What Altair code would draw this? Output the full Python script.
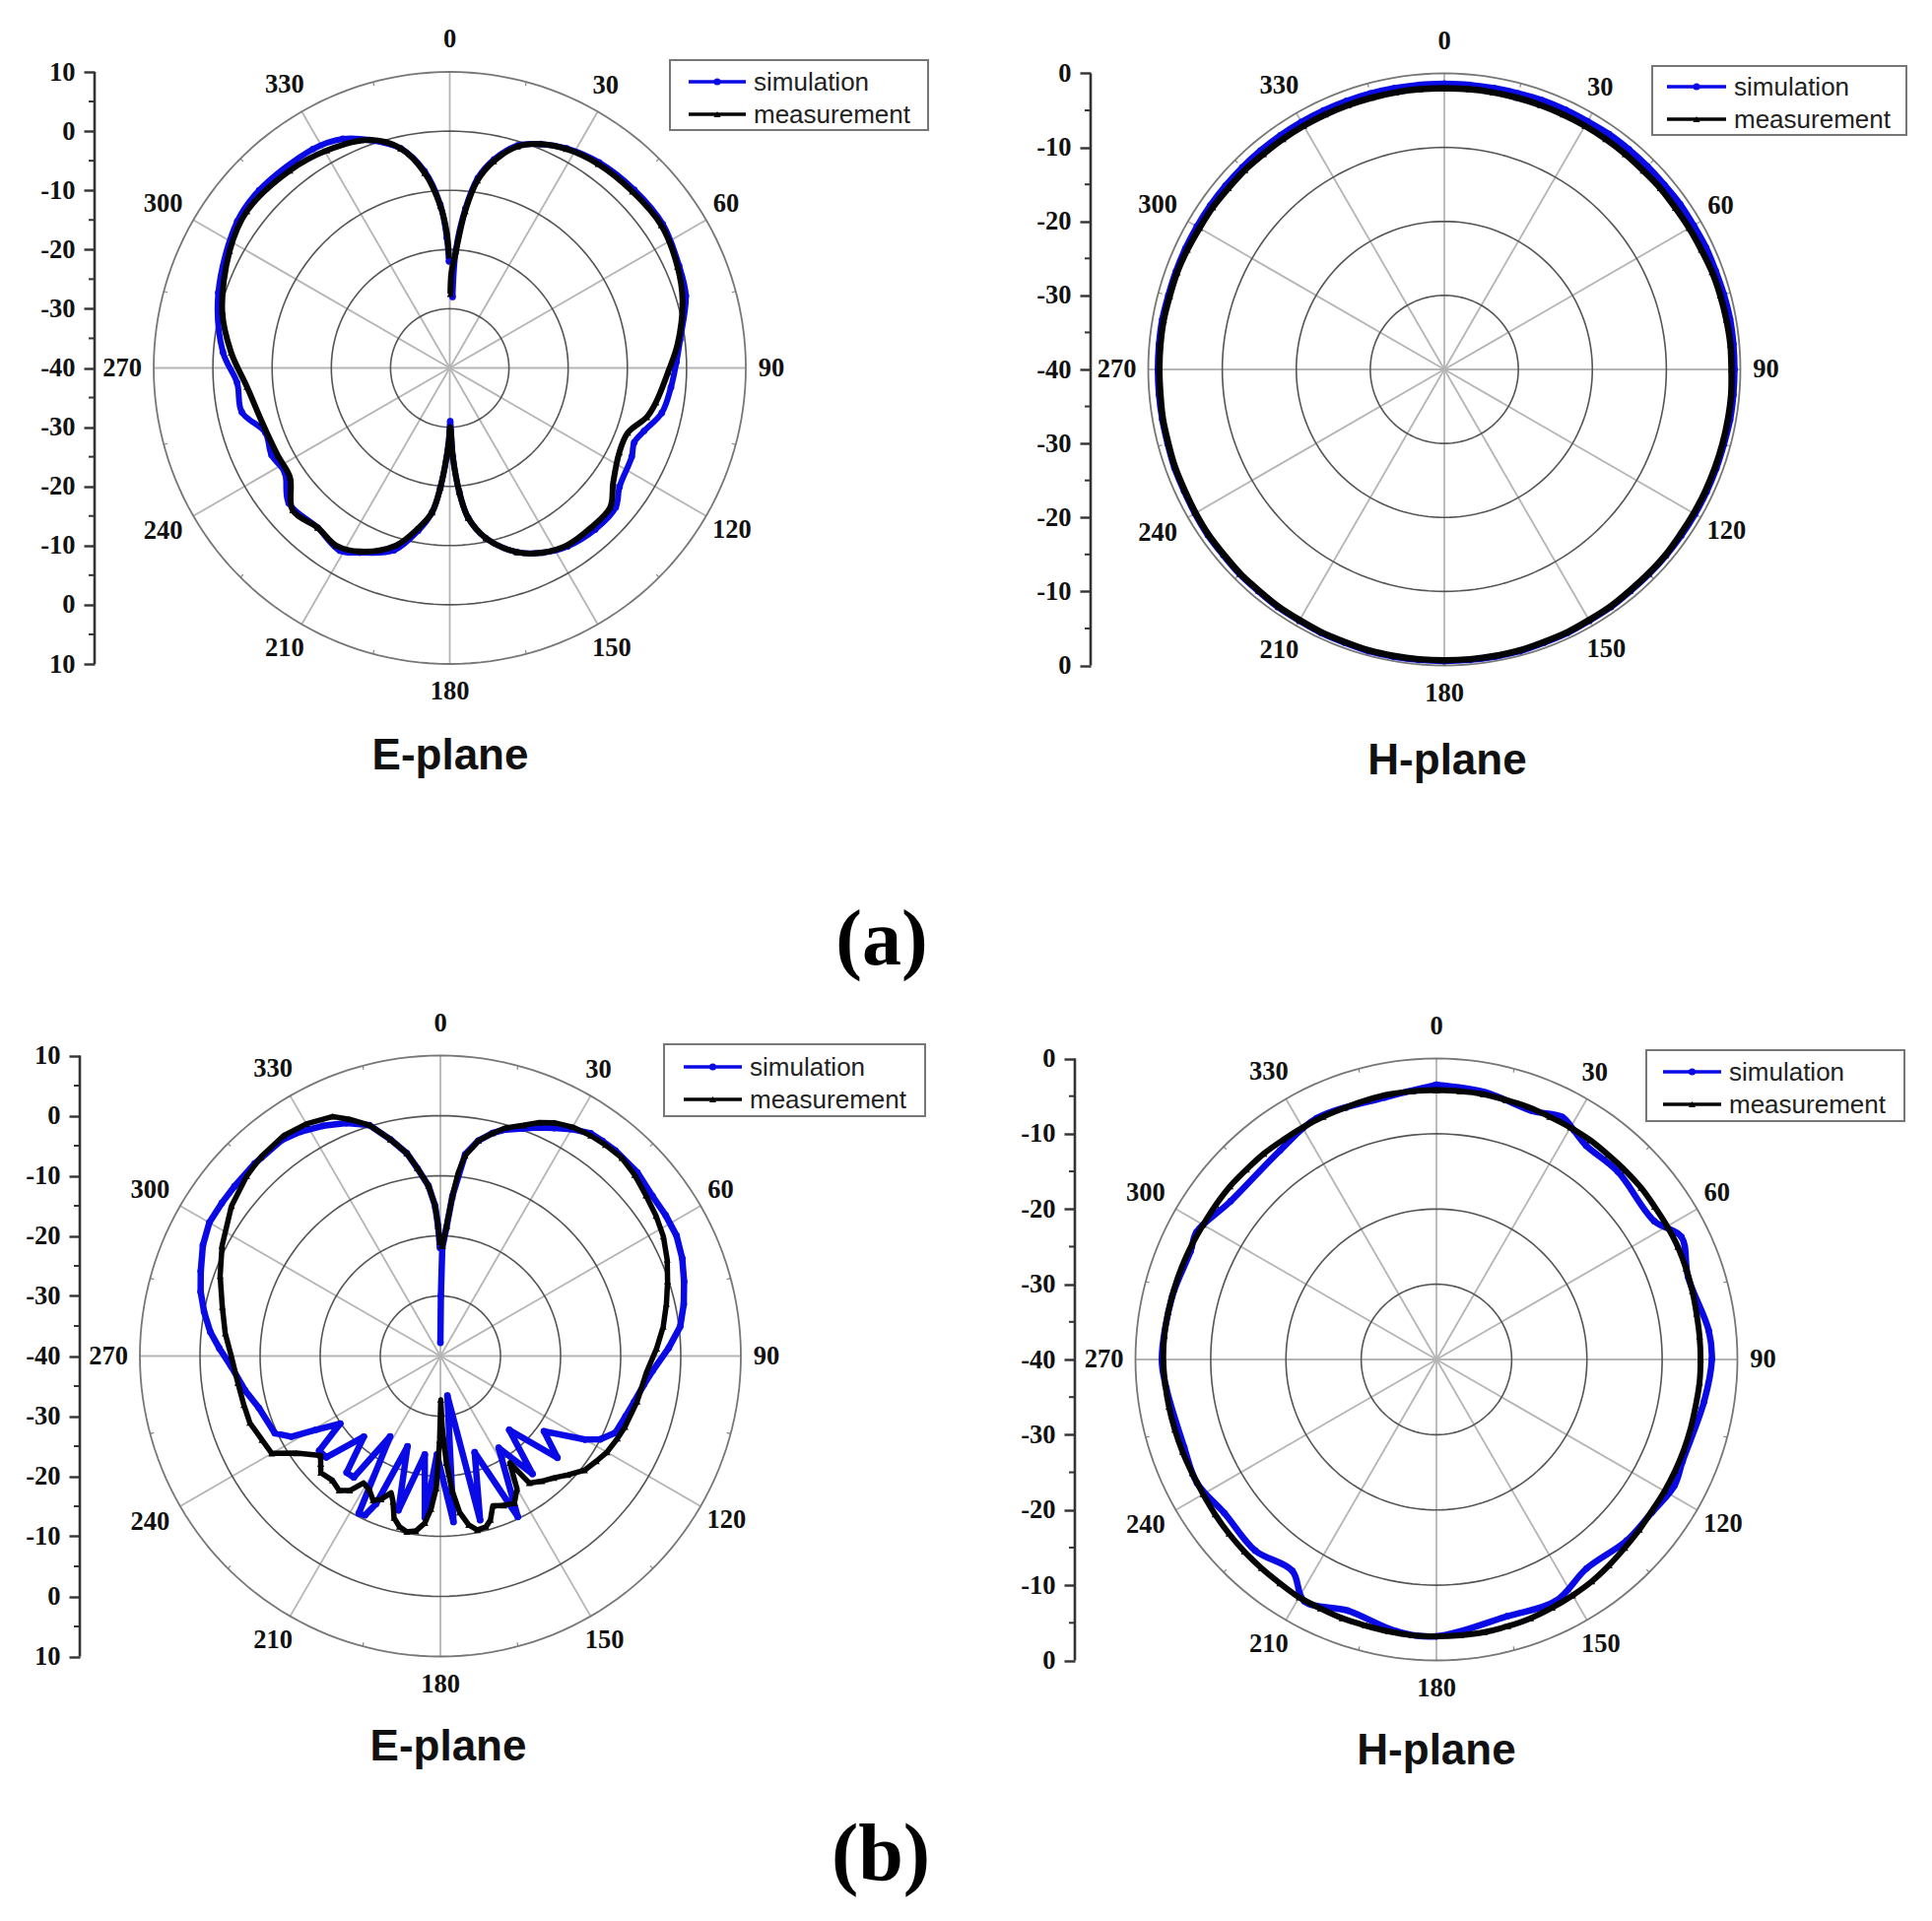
import math
import altair as alt
import pandas as pd

SERIES = ["simulation", "measurement"]
COLORS = ["#0a0ae6", "#050505"]
ANGLE_TICKS = [0, 30, 60, 90, 120, 150, 180, 210, 240, 270, 300, 330]
# small shift of each angle label: (right, up) in pixels
LABEL_SHIFT = {0: (0, 5), 30: (-6, 2), 60: (-4, 2), 90: (-2, 0), 120: (2, 0), 150: (0, 0), 180: (0, 0),
               210: (-1, 4), 240: (-2, 1), 270: (1, 0), 300: (-2, 0), 330: (-1, -1)}

# ---- (a) E-plane
AE_M_ANG = [0.5,1,3,5.6,8.4,12,17,22,28,36,46,56,66,74,84,91,99.5,104,110,116.5,125,131,138.5,146.6,153.4,160,168,173,175.6,178,179.5,181,184.5,187,191,197,206,212.6,219.6,227.8,235.6,243,253.8,264.7,274,284,298,307.7,321,330.5,340.7,347.4,352.7,356.7,358.7,359.6]
AE_M_DB = [-27.5,-24,-20.3,-13.4,-8,-4.3,-0.9,0.8,1.9,2.6,2.9,3.1,2.1,0.9,-1.3,-3.1,-4.7,-5.7,-8,-8,-6.3,-4.1,-4,-4.1,-5.1,-6.9,-10.6,-14.5,-19,-25,-30,-27,-19.7,-15.4,-12.5,-8.6,-5.5,-4.4,-5,-4.2,-7.3,-7.4,-7,-5.6,-3,-0.4,2.1,3.3,2.9,2.2,0.8,-2,-6.8,-12.6,-17,-21]
AE_S_ANG = [2.3,3,5.6,8.4,12,17,22,28,36,46,56,66,73,83,88.5,95,102,108,112,116,125,130,138,146.6,153.4,160,168,173,175.6,178,179.5,181,184.5,187,191,197,206,211,219.6,230,237.6,244,250.7,258,266,274,288,304.6,313,328,335,340.7,347.4,352.7,356.7,358.7,359.6]
AE_S_DB = [-28,-20,-13,-7.6,-4,-0.7,0.8,2,2.9,3.3,3.4,2.4,1.7,-0.8,-1.7,-2.5,-3.4,-5.5,-6.4,-5.8,-5,-3.4,-3.3,-3.9,-5.1,-6.9,-10.6,-14.5,-19,-25,-31,-27,-19.7,-15.4,-12,-7.8,-5.3,-4,-5,-4.5,-7,-6.5,-7,-4.1,-4,-1.6,1.1,3.6,4,3.6,2.7,0.8,-2,-6.5,-12.4,-18,-22]

# ---- (a) H-plane, read every 5 degrees
GRID_ANG = list(range(0, 365, 5))
AH_M_DB = [-2,-2,-2,-2,-2,-2,-2,-2,-2,-2,-1.9,-1.9,-1.8,-1.7,-1.5,-1.4,-1.3,-1.2,-1.2,-1.1,-1.1,-1.1,-1.1,-1.1,-1.1,-1.1,-1,-1,-1,-0.9,-0.9,-0.8,-0.8,-0.7,-0.7,-0.7,-0.7,-0.7,-0.7,-0.7,-0.8,-0.8,-0.9,-0.9,-1,-1,-1.1,-1.1,-1.2,-1.3,-1.3,-1.4,-1.4,-1.5,-1.5,-1.5,-1.5,-1.6,-1.6,-1.7,-1.8,-1.8,-1.9,-1.9,-2,-2,-2,-2,-2,-2,-2,-2,-2]
AH_S_DB = [-1.4,-1.4,-1.4,-1.4,-1.3,-1.3,-1.3,-1.2,-1.2,-1.2,-1.2,-1.1,-1.1,-1,-1,-0.9,-0.8,-0.8,-0.8,-0.8,-0.8,-0.9,-0.9,-0.9,-0.9,-0.9,-0.9,-0.9,-0.9,-0.8,-0.8,-0.7,-0.7,-0.6,-0.6,-0.6,-0.6,-0.6,-0.6,-0.6,-0.7,-0.7,-0.8,-0.8,-0.9,-0.9,-1,-1,-1.1,-1.2,-1.2,-1.3,-1.3,-1.3,-1.3,-1.3,-1.3,-1.4,-1.4,-1.4,-1.4,-1.4,-1.4,-1.4,-1.4,-1.4,-1.4,-1.4,-1.4,-1.4,-1.4,-1.4,-1.4]

# ---- (b) E-plane
BE_M_ANG = [0.5,1,2.7,4.3,5.5,7,10,13.2,16,19.8,23,26,30,34.3,38,42.5,47,52,57,61.8,67,71.8,77,82.5,88,94.5,103,111,115,120,124,128.4,133,137,141,145,147,150,153.3,157,160.7,163,165,168,170.5,173,175,176.8,178.5,179.5,180.5,181.8,183.5,185.3,188,190.8,193.5,196,198,199.8,202.5,205,208,211.2,214,217,221,225.7,228,230.3,236,240,244.8,250.7,256,262.5,270,276,282.7,290,296.8,305.7,312.9,318,324.6,330,335.8,339,342.9,347,350.6,353,356,358,359,359.6]
BE_M_DB = [-21.7,-21.7,-18.4,-13.3,-9.5,-6.4,-3.6,-1.9,-0.5,0.8,2.2,3.2,4,4.4,4.6,4.7,4.2,3.4,2.8,2.1,1,-0.2,-1.4,-2.6,-4,-5.6,-6.4,-7.1,-7.5,-8,-8.7,-9.4,-11,-12.3,-13.2,-14.2,-18.8,-14.5,-12.6,-13,-13.6,-11.5,-10.6,-10.4,-11.5,-13.8,-17.5,-22.2,-28,-32.7,-26,-18,-14.5,-12.1,-10.6,-10.2,-10.8,-12,-14.5,-15.8,-14.2,-13.5,-14.8,-15.3,-13,-12,-12.6,-12.2,-13.2,-14.1,-11.1,-7.6,-7.2,-6.4,-6.3,-6,-5.2,-4,-2.8,-1,0.7,2.8,4,4.6,5,4.6,3.7,2.2,0.2,-3,-5.8,-8.5,-11.6,-15,-18.4,-21]
BE_S_ANG = [0,0.5,1,2.7,4.3,7,10,13.2,16,20,23,26.5,30,34,37,40.4,47,53,58,63,68,73,78,83,88,94,98,103.4,108,113.6,117.5,120,126,131,137,142,147.6,154.3,160.4,166.4,170,175.5,182,185.5,189,195.2,200,203.5,205.3,207.4,212,215.5,218.8,223.5,228.4,232,236,239.4,241.6,245,254,260,267,272,276,280.6,285,289.5,295,300,305,309.5,316,323.7,328,333,338,342.9,347,350.6,353,356,358,359,359.8]
BE_S_DB = [-37.8,-30,-22,-18.6,-13.3,-6.2,-3.6,-1.9,-0.8,0.3,1.3,2.4,3.6,4.7,4.8,4.9,4.8,4.2,4.2,4.1,3.4,2.4,1.4,0.2,-2,-4.6,-5.8,-6.9,-7.6,-8.2,-10,-12.2,-18.7,-14.2,-23.2,-15.1,-21.9,-10.3,-23,-11.9,-33.3,-12.3,-23.6,-13,-23.4,-13.4,-24,-13.2,-10.7,-10.5,-24.2,-15.2,-15.1,-21.5,-14.6,-14.4,-19.9,-15.8,-11.8,-9.6,-8.6,-7,-5.2,-3.2,-1.5,0,1.3,2.3,3.6,4.4,4.4,4.4,4.5,4.6,4,3,1.8,0.2,-3,-5.8,-8.5,-11.6,-15,-18.4,-22]

# ---- (b) H-plane
BH_M_DB = [-4.2,-4.2,-4.2,-4.3,-4.3,-4.4,-4.4,-4.4,-4.5,-4.5,-4.5,-4.6,-4.6,-4.6,-4.7,-4.8,-4.9,-4.9,-4.9,-4.9,-5,-5,-5,-5,-5,-5,-4.8,-4.6,-4.3,-4,-3.8,-3.6,-3.4,-3.3,-3.2,-3.2,-3.2,-3.2,-3.3,-3.4,-3.4,-3.5,-3.5,-3.7,-3.8,-3.9,-4,-4.1,-4.2,-4.2,-4.1,-4,-3.9,-3.8,-3.7,-3.7,-3.8,-3.9,-4,-4.1,-4.2,-4.2,-4.2,-4.3,-4.3,-4.4,-4.4,-4.4,-4.4,-4.3,-4.2,-4.2,-4.2]
BH_S_ANG = [0,10.4,21,27.4,31,35,44,57.6,63.4,71.8,84,90,99,112.5,118,125.5,133.6,144.3,153.7,164.6,180,188.4,199.5,208.7,214.3,223.5,234.1,242.7,250.8,264,270,283.4,293.8,298,307.6,323.2,333.6,348.8,360]
BH_S_DB = [-3.5,-3.9,-4.6,-3.7,-4.5,-5.3,-5.3,-5.7,-3.6,-4.8,-3.6,-3.4,-4,-4.6,-4.2,-4.9,-5.1,-5.8,-4.2,-4.6,-3.2,-3.5,-4.6,-3.4,-6,-5,-5.2,-4.2,-4.5,-3.9,-3.5,-3.9,-4.3,-3.9,-5.5,-5.3,-4.2,-4.5,-3.5]

CELL_W, ROW_H = 970, [980, 950]

PANELS = [
    dict(col=0, row=0, cx=456.5, cy=373.5, R=300.5, rmax=50, axis_x=96, title="E-plane", tx=457, ty=768, lw_s=6, lw_m=6,
         leg=(680, 61, 942, 132, 699, 757, 83, 116), sim=(AE_S_ANG, AE_S_DB), mea=(AE_M_ANG, AE_M_DB), interp="catmull-rom",
         tag="(a)", tag_x=895, tag_base=979, tag_size=80),
    dict(col=1, row=0, cx=1466, cy=375, R=300.5, rmax=40, axis_x=1107, title="H-plane", tx=1469, ty=773, lw_s=6.5, lw_m=6.5,
         leg=(1677, 67, 1935, 137, 1692, 1752, 88, 121), sim=(GRID_ANG, AH_S_DB), mea=(GRID_ANG, AH_M_DB), interp="catmull-rom"),
    dict(col=0, row=1, cx=447, cy=1376.5, R=305, rmax=50, axis_x=81, title="E-plane", tx=455, ty=1774, lw_s=6.5, lw_m=5.5,
         leg=(674, 1060, 939, 1133, 694, 753, 1083, 1116), sim=(BE_S_ANG, BE_S_DB), mea=(BE_M_ANG, BE_M_DB), interp="linear",
         tag="(b)", tag_x=894, tag_base=1908, tag_size=82),
    dict(col=1, row=1, cx=1458, cy=1380, R=305.5, rmax=40, axis_x=1091, title="H-plane", tx=1458, ty=1778, lw_s=6.5, lw_m=6,
         leg=(1671, 1066, 1933, 1138, 1688, 1747, 1088, 1121), sim=(BH_S_ANG, BH_S_DB), mea=(GRID_ANG, BH_M_DB), interp="catmull-rom"),
]


def polar(ang, r):
    t = math.radians(ang)
    return r * math.sin(t), r * math.cos(t)


def curve(ang, db, name):
    rows = []
    for i, (a, d) in enumerate(zip(ang, db)):
        x, y = polar(a, d + 40)
        rows.append({"x": x, "y": y, "i": i, "series": name})
    return pd.DataFrame(rows)


def panel(p):
    L = 8 + p["col"] * CELL_W
    T = 8 + (ROW_H[0] if p["row"] else 0)
    H = ROW_H[p["row"]]
    s = p["R"] / p["rmax"]
    rmax = p["rmax"]
    xs = alt.Scale(domain=[(L - p["cx"]) / s, (L + CELL_W - p["cx"]) / s], nice=False, zero=False)
    ys = alt.Scale(domain=[(p["cy"] - T - H) / s, (p["cy"] - T) / s], nice=False, zero=False)
    ax_px = p["axis_x"] - L

    # radial axis, repeated on every layer so that the layers merge into one axis
    major = list(range(-rmax, rmax + 1, 10))
    minor = [v + 5 for v in major[:-1]]
    axis = alt.Axis(values=major, labelExpr="'' + (abs(datum.value) - 40)", title=None, domain=False, grid=False,
                    offset=-(ax_px), tickSize=11, tickWidth=2.4, tickColor="#333333", labelPadding=9,
                    labelFont="Liberation Serif", labelFontWeight="bold", labelFontSize=26.5, labelColor="#111111",
                    labelOverlap=False, labelFlush=False, labelBound=False)
    X = lambda f="x": alt.X(f"{f}:Q", scale=xs, axis=None)
    Y = lambda f="y": alt.Y(f"{f}:Q", scale=ys, axis=axis)

    # rings
    ring_rows = []
    for r in range(10, rmax + 1, 10):
        for a in range(0, 361, 2):
            x, y = polar(a, r)
            ring_rows.append({"x": x, "y": y, "a": a, "ring": r})
    rings_df = pd.DataFrame(ring_rows)
    rings_in = alt.Chart(rings_df[rings_df.ring < rmax]).mark_line(color="#555555", strokeWidth=1.6).encode(
        x=X(), y=Y(), detail="ring:N", order="a:Q")
    ring_out = alt.Chart(rings_df[rings_df.ring == rmax]).mark_line(color="#777777", strokeWidth=1.8).encode(
        x=X(), y=Y(), order="a:Q")

    # spokes
    spoke_rows = []
    for a in ANGLE_TICKS:
        x, y = polar(a, rmax)
        spoke_rows.append({"x0": 0.0, "y0": 0.0, "x1": x, "y1": y})
    spokes = alt.Chart(pd.DataFrame(spoke_rows)).mark_rule(color="#b5b5b5", strokeWidth=1.8).encode(
        x=X("x0"), y=Y("y0"), x2="x1:Q", y2="y1:Q")
    small_rows = []
    for a in range(15, 360, 30):
        x0, y0 = polar(a, rmax - 4 / s)
        x1, y1 = polar(a, rmax)
        small_rows.append({"x0": x0, "y0": y0, "x1": x1, "y1": y1})
    small = alt.Chart(pd.DataFrame(small_rows)).mark_rule(color="#888888", strokeWidth=1.2).encode(
        x=X("x0"), y=Y("y0"), x2="x1:Q", y2="y1:Q")

    # angle labels just outside the outer ring
    lab_rows = []
    for a in ANGLE_TICKS:
        x, y = polar(a, rmax + (33 if a > 180 else 28) / s)
        dx, dy = LABEL_SHIFT[a]
        lab_rows.append({"x": x + dx / s, "y": y + dy / s, "t": str(a)})
    ang_labels = alt.Chart(pd.DataFrame(lab_rows)).mark_text(
        font="Liberation Serif", fontWeight="bold", fontSize=26.5, color="#111111", align="center", baseline="middle"
    ).encode(x=X(), y=Y(), text="t:N")

    spine = alt.Chart(pd.DataFrame({"y0": [-rmax], "y1": [rmax]})).mark_rule(color="#333333", strokeWidth=2.6).encode(
        x=alt.value(ax_px), y=Y("y0"), y2="y1:Q")
    minors = alt.Chart(pd.DataFrame({"y": minor})).mark_rule(color="#333333", strokeWidth=2).encode(
        x=alt.value(ax_px - 6), x2=alt.value(ax_px), y=Y())

    # curves: the legend supplies the labels, its keys are drawn below with line and marker together
    lx0, ly0, lx1, ly1, lnx0, lnx1, row1, row2 = p["leg"]
    legend = alt.Legend(orient="none", legendX=lnx0 - L, legendY=row1 - 12 - T, title=None, symbolType="stroke",
                        symbolSize=16, symbolOpacity=0, labelFont="Liberation Sans",
                        labelFontSize=26, labelColor="#222222", labelOffset=lnx1 - lnx0 - 18, rowPadding=row2 - row1 - 26,
                        padding=0, labelLimit=300)
    color = alt.Color("series:N", scale=alt.Scale(domain=SERIES, range=COLORS), legend=legend)
    sim = curve(*p["sim"], SERIES[0])
    mea = curve(*p["mea"], SERIES[1])
    line_s = alt.Chart(sim).mark_line(strokeWidth=p["lw_s"], interpolate=p["interp"], strokeJoin="round").encode(
        x=X(), y=Y(), order="i:Q", color=color)
    pts_s = alt.Chart(sim).mark_point(filled=True, shape="circle", size=46, color=COLORS[0], opacity=1).encode(x=X(), y=Y())
    line_m = alt.Chart(mea).mark_line(strokeWidth=p["lw_m"], interpolate=p["interp"], strokeJoin="round").encode(
        x=X(), y=Y(), order="i:Q", color=color)
    pts_m = alt.Chart(mea).mark_point(filled=True, shape="triangle-up", size=50, color=COLORS[1], opacity=1).encode(x=X(), y=Y())

    # legend frame and the keys
    one = pd.DataFrame({"k": [0]})
    frame = alt.Chart(one).mark_rect(fill="white", stroke="#777777", strokeWidth=2).encode(
        x=alt.value(lx0 - L), x2=alt.value(lx1 - L), y=alt.value(ly0 - T), y2=alt.value(ly1 - T))
    key_mid = (lnx0 + lnx1) / 2 - L
    keys = []
    for row, col, shape in ((row1, COLORS[0], "circle"), (row2, COLORS[1], "triangle-up")):
        keys.append(alt.Chart(one).mark_rule(color=col, strokeWidth=3.4).encode(
            x=alt.value(lnx0 - L), x2=alt.value(lnx1 - L), y=alt.value(row - T)))
        keys.append(alt.Chart(one).mark_point(filled=True, shape=shape, size=50, color=col, opacity=1).encode(
            x=alt.value(key_mid), y=alt.value(row - T)))

    title = alt.Chart(pd.DataFrame({"t": [p["title"]]})).mark_text(
        font="Liberation Sans", fontWeight="bold", fontSize=44, color="#111111", align="center", baseline="middle"
    ).encode(x=alt.value(p["tx"] - L), y=alt.value(p["ty"] - T), text="t:N")

    layers = [spokes, small, rings_in, ring_out, spine, minors, ang_labels, line_s, pts_s, line_m, pts_m, frame, *keys, title]
    if "tag" in p:
        layers.append(alt.Chart(pd.DataFrame({"t": [p["tag"]]})).mark_text(
            font="Liberation Serif", fontWeight="bold", fontSize=p["tag_size"], color="#000000", align="center", baseline="alphabetic"
        ).encode(x=alt.value(p["tag_x"] - L), y=alt.value(p["tag_base"] - T), text="t:N"))
    return alt.layer(*layers).properties(width=CELL_W, height=H)


chart = alt.concat(*[panel(p) for p in PANELS], columns=2, spacing=0, bounds="flush").resolve_scale(
    color="independent", x="independent", y="independent"
).configure_view(stroke=None).properties(padding=0, background="white")

chart.save("out.html", embed_options={"renderer": "svg", "actions": False})
